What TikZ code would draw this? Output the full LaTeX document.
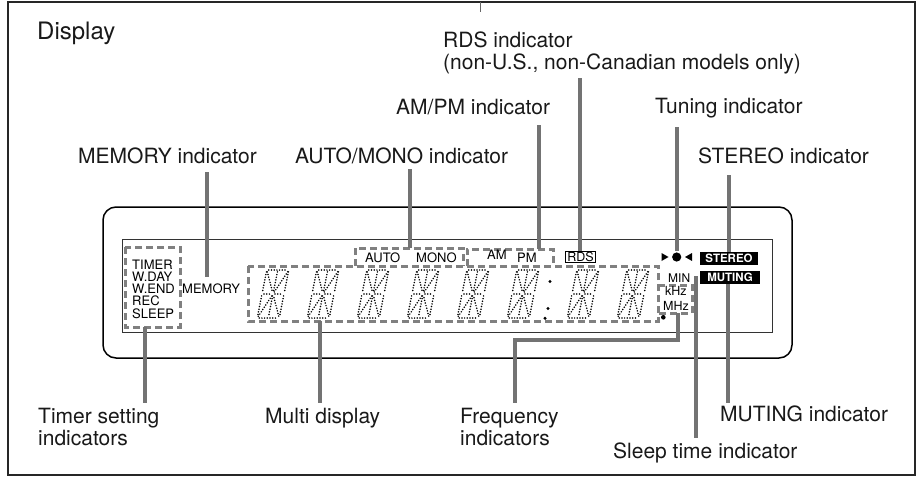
\documentclass[tikz,border=0pt]{standalone}
\usepackage{fontspec}
\setmainfont{TeX Gyre Heros}
\begin{document}
\begin{tikzpicture}[x=1pt,y=-1pt,
  lbl/.style={font=\fontsize{21}{22}\selectfont, anchor=base west, inner sep=0pt, text=black!90},
  tiny/.style={font=\fontsize{13}{12}\selectfont, anchor=base west, inner sep=0pt},
  lead/.style={draw=black!55, line width=3.3pt},
  dbox/.style={draw=black!50, line width=3pt, dash pattern=on 7pt off 4pt},
  seg/.style={draw=black, line width=1.7pt, dash pattern=on 0pt off 2.7pt, line cap=round, shorten <=2pt, shorten >=2pt},
  blk/.style={fill=black, text=white, font=\bfseries\fontsize{11.5}{12}\selectfont, inner sep=0pt, minimum height=13pt, align=center},
]
\useasboundingbox (0,0) rectangle (917,477);
\newcommand\lcddigit[1]{%
  \begin{scope}[shift={(#1,294)}, xslant=0.2]
    \draw[seg] (-11,-24) -- (11,-24);
    \draw[seg] (-11,0) -- (0,0);
    \draw[seg] (0,0) -- (11,0);
    \draw[seg] (-11,24) -- (11,24);
    \draw[seg] (-11,-24) -- (-11,0);
    \draw[seg] (-11,0) -- (-11,24);
    \draw[seg] (11,-24) -- (11,0);
    \draw[seg] (11,0) -- (11,24);
    \draw[seg] (0,-24) -- (0,0);
    \draw[seg] (0,0) -- (0,24);
    \draw[seg] (-11,-24) -- (0,0);
    \draw[seg] (11,-24) -- (0,0);
    \draw[seg] (-11,24) -- (0,0);
    \draw[seg] (11,24) -- (0,0);
  \end{scope}}
% outer frame
\draw[black!85, line width=2pt] (8,2) rectangle (915,475);
\draw[black!60, line width=1pt] (480,2) -- (480,12);
% display body
\draw[line width=1.5pt, rounded corners=13pt] (103,207) rectangle (792,358);
\draw[line width=1pt, black!80] (122,239) rectangle (772,332);
% dashed groups
\draw[dbox] (125,247) rectangle (180,327);
\draw[dbox] (248,266) rectangle (658,321);
\draw[dbox] (355,266) -- (355,248) -- (463,248) -- (463,266);
\draw[dbox] (467,266) -- (467,249) -- (553,249) -- (553,266);
\draw[dbox] (658,285) -- (692,285) -- (692,313) -- (658,313);
% small texts
\node[tiny] (timer) at (132,269) {TIMER};
\node[tiny] (wday) at (132,281.3) {W.DAY};
\node[tiny] (wend) at (132,293.6) {W.END};
\node[tiny] (rec) at (132,305.9) {REC};
\node[tiny] (sleep) at (132,318.2) {SLEEP};
\node[tiny] (memory) at (182,293.6) {MEMORY};
\node[tiny] (auto) at (365,262) {AUTO};
\node[tiny] (mono) at (416,262) {MONO};
\node[tiny] (am) at (487,259.5) {AM};
\node[tiny] (pm) at (517,262) {PM};
\node[draw, line width=0.8pt, inner xsep=2pt, inner ysep=1pt, font=\fontsize{12.5}{12}\selectfont] (rdsbox) at (580.5,257) {RDS};
\node[blk, minimum width=58pt] (stereo) at (729,258.3) {STEREO};
\node[blk, minimum width=60pt] (muting) at (730,277) {MUTING};
\node[tiny, font=\fontsize{12}{11}\selectfont] (min) at (668,282.7) {MIN};
\node[tiny, font=\fontsize{12.5}{11}\selectfont] (khz) at (665,295) {kHz};
\node[tiny, font=\fontsize{12.5}{11}\selectfont] (mhz) at (663,310) {MHz};
% tuning symbol
\fill (661.5,253) -- (668.5,257) -- (661.5,261) -- cycle;
\fill (676.7,257) circle (4.6);
\fill (692,253) -- (685,257) -- (692,261) -- cycle;
\fill (663.3,317.3) circle (2.3);
% digits
\foreach \cx in {273,323,373,423,473,523,583,633} {\lcddigit{\cx}}
\fill (550,281.5) circle (1.7);
\fill (548,308.5) circle (1.7);
\fill (545,318.3) circle (1.7);
% labels
\node[lbl, font=\fontsize{24}{26}\selectfont] (display) at (37,39) {Display};
\node[lbl] (rds1) at (443,47) {RDS indicator};
\node[lbl] (rds2) at (443,69) {(non-U.S., non-Canadian models only)};
\node[lbl] (ampmL) at (396,114) {AM/PM indicator};
\node[lbl] (tunL) at (655,113) {Tuning indicator};
\node[lbl] (memL) at (78,163) {MEMORY indicator};
\node[lbl] (autoL) at (295,163) {AUTO/MONO indicator};
\node[lbl] (stereoL) at (698,163) {STEREO indicator};
\node[lbl] (timerL1) at (38,423) {Timer setting};
\node[lbl] (timerL2) at (38,445) {indicators};
\node[lbl] (multiL) at (265,423) {Multi display};
\node[lbl] (freqL1) at (460,423) {Frequency};
\node[lbl] (freqL2) at (460,445) {indicators};
\node[lbl] (mutL) at (720,421) {MUTING indicator};
\node[lbl] (sleepL) at (613,458) {Sleep time indicator};
% leader coordinates
\coordinate (memA) at (207,172); \coordinate (memB) at (207,277);
\coordinate (autoA) at (410,169); \coordinate (autoB) at (410,248);
\coordinate (ampmA) at (539,125); \coordinate (ampmB) at (539,249);
\coordinate (rdsA) at (580,78); \coordinate (rdsB) at (580,251);
\coordinate (tunA) at (677,127); \coordinate (tunB) at (677,251);
\coordinate (stA) at (729,175); \coordinate (stB) at (729,252);
\coordinate (tmA) at (145,327); \coordinate (tmB) at (145,403);
\coordinate (muA) at (320,321); \coordinate (muB) at (320,403);
\coordinate (frA) at (678,313); \coordinate (frB) at (515,403);
\coordinate (slA) at (696,276); \coordinate (slB) at (696,438);
\coordinate (mtA) at (728,283.5); \coordinate (mtB) at (728,403);
\draw[lead] (memA) -- (memB);
\draw[lead] (autoA) -- (autoB);
\draw[lead] (ampmA) -- (ampmB);
\draw[lead] (rdsA) -- (rdsB);
\draw[lead] (tunA) -- (tunB);
\draw[lead] (stA) -- (stB);
\draw[lead] (tmA) -- (tmB);
\draw[lead] (muA) -- (muB);
\draw[lead] (frA) -- ++(0,27) -| (frB);
\draw[lead] (slA) -- (slB);
\draw[lead] (mtA) -- (mtB);
\end{tikzpicture}
\end{document}
